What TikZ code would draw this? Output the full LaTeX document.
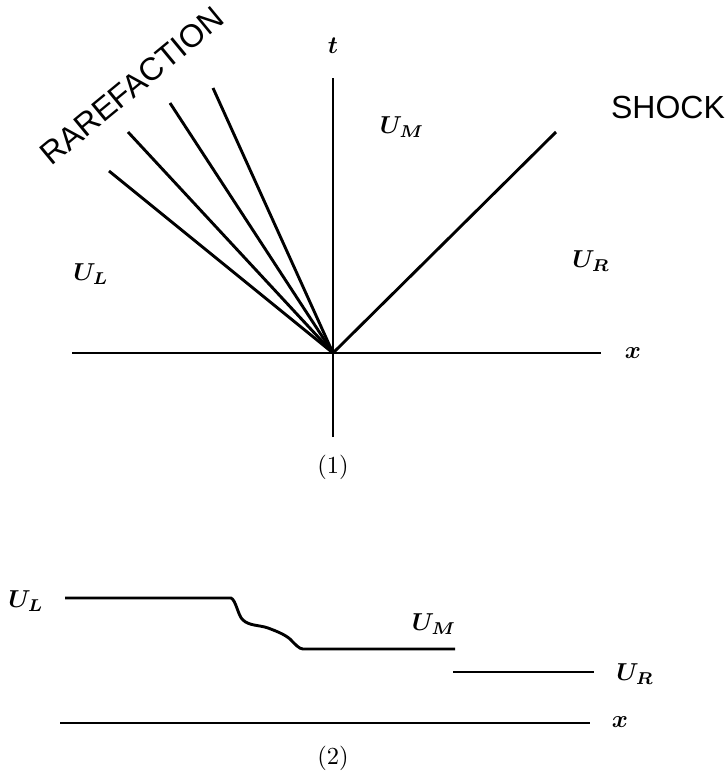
\documentclass[tikz,border=0pt]{standalone}
\usepackage{fontspec}
\newfontfamily\arialfont{Liberation Sans}
\begin{document}
\begin{tikzpicture}[x=1pt,y=-1pt,
  ln/.style={line width=2.9pt},
  lbl/.style={font=\fontsize{10}{12}\selectfont\boldmath, inner sep=0pt, scale=2.45},
  sans/.style={font=\arialfont\fontsize{32}{36}\selectfont, inner sep=0pt}]
\useasboundingbox (0,0) rectangle (728,772);
% diagram (1)
\coordinate (O) at (333,353);
\coordinate (xl) at (72,353);
\coordinate (xr) at (601,353);
\coordinate (tt) at (333,78);
\coordinate (tb) at (333,437);
\coordinate (r1) at (109,171);
\coordinate (r2) at (128,132);
\coordinate (r3) at (170,103);
\coordinate (r4) at (213,88);
\coordinate (sk) at (556,132);
\draw[ln] (xl) -- (xr);
\draw[ln] (tb) -- (tt);
\foreach \r in {r1,r2,r3,r4} \draw[ln] (O) -- (\r);
\draw[ln] (O) -- (sk);
\node[lbl] (t) at (333,46) {$t$};
\node[lbl] (x1) at (633,353) {$x$};
\node[lbl] (UL1) at (91,274) {$U_L$};
\node[lbl] (UM1) at (402,127) {$U_M$};
\node[lbl] (UR1) at (591,261) {$U_R$};
\node[sans, rotate=39.5] (rare) at (132,86) {RAREFACTION};
\node[sans] (shock) at (668,107) {SHOCK};
\node[lbl] (c1) at (333,467) {(1)};
% diagram (2)
\coordinate (a0) at (65,598);
\coordinate (a1) at (231,598);
\coordinate (m0) at (303,649);
\coordinate (m1) at (455,649);
\coordinate (b0) at (453,672);
\coordinate (b1) at (594,672);
\coordinate (x0) at (60,723);
\coordinate (x2) at (590,723);
\draw[ln, line join=round] (a0) -- (a1)
  .. controls (236,600) and (238,616) .. (243,620)
  .. controls (249,626) and (260,625) .. (268,628)
  .. controls (276,631) and (284,634) .. (290,639)
  .. controls (295,644) and (299,649) .. (m0) -- (m1);
\draw[ln] (b0) -- (b1);
\draw[ln] (x0) -- (x2);
\node[lbl] (UL2) at (26,601) {$U_L$};
\node[lbl] (UM2) at (434,624) {$U_M$};
\node[lbl] (UR2) at (635,674) {$U_R$};
\node[lbl] (x2l) at (620,722) {$x$};
\node[lbl] (c2) at (333,758) {(2)};
\end{tikzpicture}
\end{document}
